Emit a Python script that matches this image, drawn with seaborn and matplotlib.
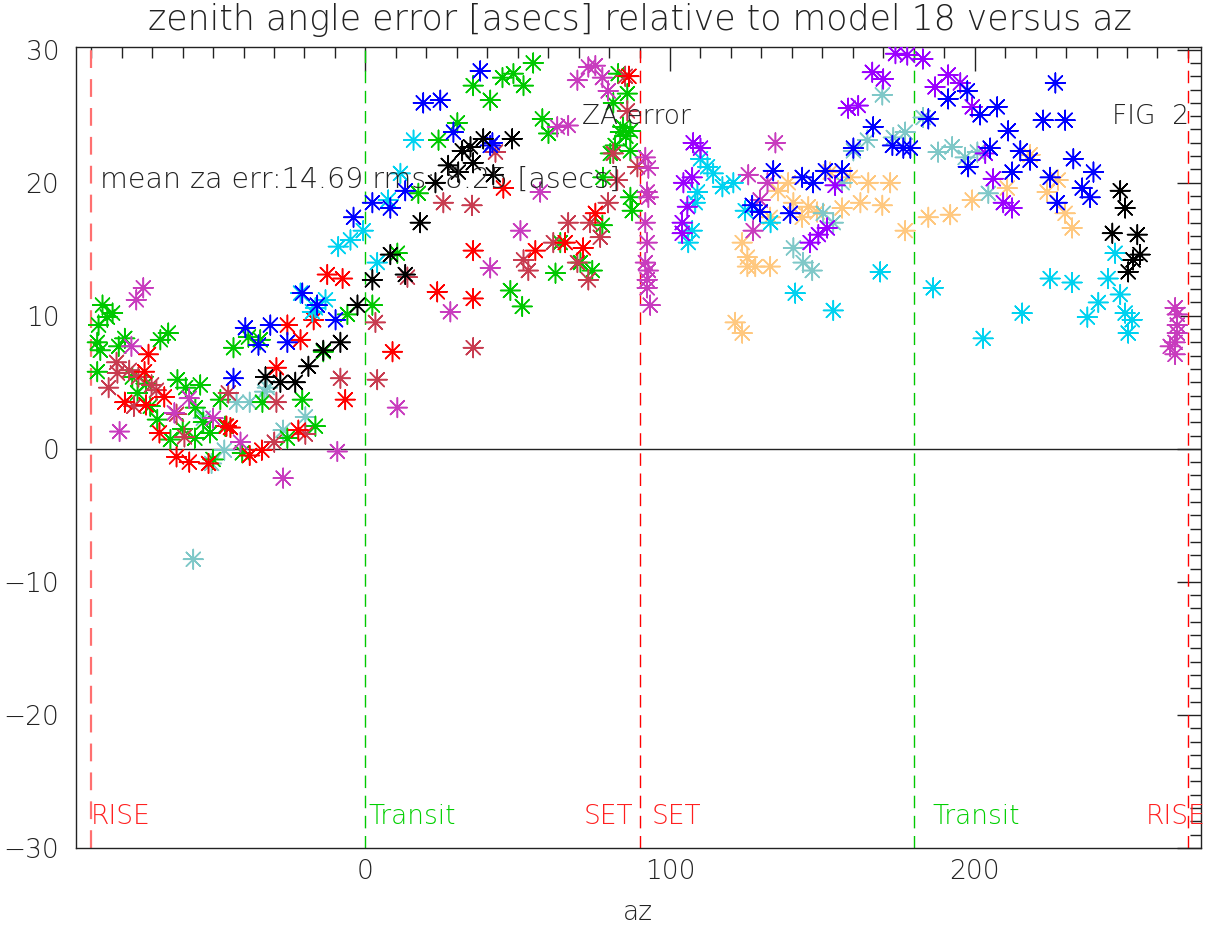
import matplotlib
matplotlib.use("Agg")
import matplotlib.pyplot as plt
from matplotlib.ticker import MultipleLocator
import seaborn as sns
import pandas as pd

# --- data (az [deg], za error [asecs]) ---
az_green = [-86.3, -84.7, -87.6, -88.0, -87.0, -81.0, -88.0, -67.3, -64.7, -76.5, -74.8, -70.6,
            -68.3, -64.0, -61.7, -59.0, -54.2, -55.8, -53.2, -51.0, -46.0, -47.6, -43.3, -38.4,
            -34.5, -40.4, -33.8, -25.6, -20.7, -16.4, -13.8, -5.9, 2.3, 10.5, -50.0, -83.0,
            -79.0, -72.0, -60.0, -56.0,
            35.4, 41.0, 45.0, 48.6, 51.9, 55.1, 30.2, 24.0, 58.1, 60.1, 17.4, 47.6, 51.5, 62.4,
            64.0, 77.8, 74.5, 83.0, 81.4, 86.0, 83.7, 87.0, 80.4, 87.0, 78.0, 87.6, 87.0, 70.6,
            84.5, 85.5, 82.0]
err_green = [10.8, 9.9, 9.3, 8.0, 7.4, 7.7, 5.8, 8.2, 8.7, 5.4, 4.2, 3.2,
             2.2, 0.7, 5.2, 4.6, 4.8, 3.1, 2.0, 1.2, 1.7, 3.7, 7.6, 8.4,
             8.2, -0.3, 3.5, 0.8, 3.7, 1.7, 7.3, 10.1, 10.8, 14.7, -0.8, 10.2,
             8.3, 4.9, 1.5, 0.8,
             27.3, 26.2, 27.9, 28.2, 27.3, 29.0, 24.5, 23.2, 24.8, 23.7, 19.2, 11.9, 10.7, 13.2,
             15.5, 16.8, 13.4, 28.2, 26.0, 26.7, 23.8, 23.9, 22.2, 22.4, 20.4, 17.9, 18.9, 14.0,
             24.2, 23.5, 22.8]

az_red = [-71.2, -72.5, -79.0, -72.0, -66.0, -67.6, -62.0, -57.8, -51.5, -45.6, -29.2, -25.6,
          -38.0, -34.0, -21.3, -17.0, -6.6, -22.0, -7.5, -12.5, 8.9, 23.6, 35.4, 35.4, 45.3,
          55.8, 71.5, 75.5, 65.6, -44.3, 86.5]
err_red = [7.1, 5.8, 3.5, 3.3, 3.9, 1.2, -0.6, -1.0, -1.1, 1.7, 6.1, 9.3,
           -0.5, -0.1, 8.2, 9.7, 3.7, 1.4, 12.8, 13.1, 7.3, 11.8, 14.9, 11.3, 19.6,
           14.9, 15.1, 17.7, 15.5, 1.6, 28.0]

az_brick = [-81.7, -84.3, -77.5, -74.5, -70.2, -68.6, -76.0, -62.0, -59.4, -45.0, -29.9, -29.2,
            -81.4, -19.7, -8.2, 3.3, 3.9, 13.8, 25.6, 35.0, 35.4, 51.9, 53.5, 66.6, 61.7, 69.6,
            73.2, 77.1, 79.7, 73.8, 82.7, 86.0, 89.3, 42.7, 81.4, 85.3]
err_brick = [6.5, 4.6, 5.9, 5.4, 4.8, 4.4, 3.2, 2.6, 0.9, 4.2, 0.5, 3.5,
             5.7, 1.1, 5.3, 9.5, 5.2, 12.9, 18.5, 18.3, 7.6, 14.2, 13.4, 17.0, 15.5, 14.0,
             12.7, 15.9, 18.5, 17.0, 20.2, 25.4, 21.2, 22.3, 22.2, 28.0]

az_magenta = [-72.9, -75.2, -76.8, -80.7, -57.8, -62.7, -50.0, -27.0, -9.2, -41.0,
              10.5, 27.9, 41.0, 50.9, 57.4, 63.0, 66.6, 69.6, 73.2, 75.5, 77.8, 79.7,
              91.9, 92.9, 92.5, 92.9, 91.9, 92.5, 91.9, 92.9, 92.5, 92.5, 93.5,
              265.8, 266.5, 266.5, 266.5, 265.8, 264.2, 265.8,
              134.6, 125.7, 132.0, 127.3, 129.6]
err_magenta = [12.1, 11.2, 7.7, 1.3, 3.8, 2.7, 2.3, -2.2, -0.2, 0.5,
               3.1, 10.3, 13.6, 16.4, 19.3, 24.2, 24.3, 27.7, 28.7, 28.8, 27.9, 26.9,
               21.9, 21.1, 19.3, 18.9, 17.0, 15.5, 14.0, 13.4, 12.7, 12.1, 10.8,
               10.6, 10.1, 9.3, 8.7, 8.0, 7.7, 7.1,
               23.0, 20.6, 20.0, 16.4, 18.7]

az_purple = [107.6, 110.0, 104.4, 107.3, 105.7, 104.0, 104.0, 146.0, 148.7, 151.6, 154.2, 158.5,
             161.8, 166.4, 170.0, 174.0, 177.9, 183.0, 187.0, 191.3, 195.3, 199.2, 203.5, 206.1,
             209.4, 212.3]
err_purple = [23.0, 22.6, 20.0, 20.4, 18.2, 17.0, 16.2, 15.5, 16.1, 16.6, 19.8, 25.6,
              25.8, 28.3, 27.8, 29.7, 29.6, 29.3, 27.2, 28.1, 27.5, 25.7, 22.2, 20.3,
              18.5, 18.1]

az_blue = [-43.3, -39.4, -35.1, -31.2, -25.6, -20.7, -15.8, -9.8, -3.9, 2.3, 8.2, 13.1,
           19.0, 24.6, 37.7, 28.9, 41.7, 41.0,
           133.9, 127.0, 129.6, 139.5, 143.4, 147.0, 151.0, 156.5, 160.2, 166.7,
           173.0, 176.6, 184.8, 191.3, 197.6, 201.8, 207.4, 211.0, 215.0, 218.2,
           226.5, 222.5, 229.7, 232.4, 239.0, 235.3, 237.9, 227.1, 224.8, 212.3,
           205.1, 197.9, 178.9]
err_blue = [5.3, 9.1, 7.8, 9.3, 8.0, 11.7, 10.8, 9.7, 17.4, 18.5, 18.1, 19.4,
            26.0, 26.2, 28.4, 23.8, 23.0, 22.8,
            20.9, 18.3, 17.8, 17.7, 20.4, 20.0, 20.9, 20.9, 22.6, 24.2,
            22.8, 22.6, 24.8, 26.3, 26.9, 25.1, 25.7, 23.9, 22.4, 21.7,
            27.5, 24.7, 24.7, 21.8, 20.8, 19.6, 18.9, 18.5, 20.4, 20.8,
            22.6, 21.2, 22.6]

az_cyan = [-21.3, -13.1, -16.4, -8.9, -4.9, -0.7, 3.9, 7.5, 15.8, 11.5, -17.4,
           110.0, 112.3, 114.2, 117.2, 120.8, 109.0, 108.3, 107.3, 106.0, 124.7,
           133.0, 141.1, 153.6, 169.0,
           186.4, 202.8, 215.6, 224.8, 232.0, 237.0, 240.6, 243.8, 246.1, 247.8,
           249.4, 251.7, 250.4]
err_cyan = [11.7, 11.2, 10.6, 15.2, 15.7, 16.4, 14.0, 18.7, 23.2, 20.7, 10.3,
            21.8, 21.2, 20.7, 19.7, 20.0, 19.3, 18.5, 16.4, 15.5, 17.9,
            17.0, 11.7, 10.4, 13.3,
            12.1, 8.3, 10.2, 12.8, 12.5, 9.9, 11.0, 12.8, 14.7, 11.6,
            10.2, 9.7, 8.7]

az_teal = [-53.2, -50.5, -46.3, -42.3, -38.0, -33.1, -27.0, -19.7, -32.2, -56.5,
           140.5, 143.7, 146.7, 150.3, 153.6, 156.5, 160.2, 164.8, 169.7, 173.3,
           177.2, 183.1, 188.0, 192.6, 196.9, 200.9, 204.5]
err_teal = [2.3, -1.1, -0.1, 3.5, 3.5, 4.3, 1.4, 2.4, 4.6, -8.3,
            15.1, 14.0, 13.4, 17.7, 17.0, 20.0, 22.4, 23.2, 26.6, 23.4,
            23.8, 24.9, 22.3, 22.7, 21.9, 22.3, 19.2]

az_black = [-32.8, -27.9, -23.0, -18.7, -13.8, -8.2, -2.6, 2.3, 8.2, 13.1, 18.0, 23.0,
            27.2, 31.8, 34.5, 38.7, 30.5, 35.4, 42.0, 48.2,
            247.8, 249.4, 245.2, 253.4, 254.3, 252.0, 250.4]
err_black = [5.4, 5.0, 5.0, 6.2, 7.4, 8.0, 10.8, 12.7, 14.6, 13.1, 17.0, 20.0,
             21.3, 22.4, 22.7, 23.3, 20.8, 21.5, 20.6, 23.3,
             19.4, 18.1, 16.2, 16.1, 14.6, 14.2, 13.3]

az_orange = [121.4, 123.7, 123.7, 125.4, 125.4, 128.0, 132.9, 129.6, 132.9, 135.5, 138.8,
             140.5, 143.4, 145.4, 148.3, 152.6, 156.5, 159.2, 162.5, 165.1, 169.7, 172.3,
             177.2, 184.8, 192.0, 199.2, 210.7, 218.2, 227.4, 223.8, 229.7, 232.0]
err_orange = [9.5, 8.7, 15.5, 14.4, 13.7, 13.7, 13.7, 17.8, 17.4, 19.4, 20.0,
              18.5, 17.4, 18.2, 17.8, 20.8, 18.1, 20.4, 18.5, 20.0, 18.3, 20.0,
              16.4, 17.4, 17.6, 18.7, 19.6, 22.1, 20.2, 19.3, 17.7, 16.6]

series = {
    'orange': (az_orange, err_orange, '#ffc87f'),
    'teal': (az_teal, err_teal, '#7fc8c8'),
    'green': (az_green, err_green, '#00c800'),
    'brick': (az_brick, err_brick, '#c83c50'),
    'red': (az_red, err_red, '#ff0000'),
    'magenta': (az_magenta, err_magenta, '#c83cbe'),
    'cyan': (az_cyan, err_cyan, '#00d2f0'),
    'purple': (az_purple, err_purple, '#9b00ff'),
    'blue': (az_blue, err_blue, '#0000ff'),
    'black': (az_black, err_black, '#000000'),
}

df = pd.concat([pd.DataFrame({'az': a, 'err': e, 'run': name})
                for name, (a, e, c) in series.items()], ignore_index=True)
palette = {name: c for name, (a, e, c) in series.items()}

sns.set_theme(style="white")
plt.rcParams['font.family'] = ['DejaVu Sans']
plt.rcParams['font.weight'] = 'light'

fig = plt.figure(figsize=(12.09, 9.30), dpi=100)
ax = fig.add_axes([76 / 1209, 82 / 930, 1125 / 1209, 801 / 930])

# event markers: rise / transit / set
ax.axvline(-90, color='#ff7070', lw=1.6, ls=(0, (8, 5)), zorder=1)
for xv, col in [(0, '#00c800'), (90, '#ff0000'), (180, '#00c800'), (270, '#ff0000')]:
    ax.axvline(xv, color=col, lw=1.0, ls=(0, (9, 5.5)), zorder=1)
ax.axhline(0, color='#222222', lw=1.0, zorder=1)

sns.scatterplot(data=df, x='az', y='err', hue='run', palette=palette,
                marker=(8, 2, 0), s=200, linewidth=1.1, legend=False, ax=ax, zorder=3)

ax.set_xlim(-95, 274.3)
ax.set_ylim(-30, 30.2)
ax.xaxis.set_major_locator(MultipleLocator(100))
ax.xaxis.set_minor_locator(MultipleLocator(10))
ax.yaxis.set_major_locator(MultipleLocator(10))
ax.yaxis.set_minor_locator(MultipleLocator(1))
ax.tick_params(which='both', direction='in', top=True, right=True, colors='#222222',
               labelsize=19, width=1.0)
ax.tick_params(which='major', length=17)
ax.tick_params(which='minor', length=8)
ax.tick_params(axis='x', pad=8)
ax.tick_params(axis='y', pad=12)
for sp in ax.spines.values():
    sp.set_color('#222222')
    sp.set_linewidth(1.0)
ax.set_xlabel('')
ax.set_ylabel('')

# annotations
txt = dict(fontsize=19, va='center')
ax.text(-87, 20.2, 'mean za err:14.69 rms: 8.25 [asecs]', color='#222222',
        fontsize=20.5, va='center')
ax.text(71.2, 25.0, 'ZA error', color='#222222', **txt)
ax.text(245.2, 25.0, 'FIG  2', color='#222222', **txt)
ax.text(-90, -27.6, 'RISE', color='#ff2020', ha='left', **txt)
ax.text(1.0, -27.6, 'Transit', color='#00d000', ha='left', **txt)
ax.text(87.8, -27.6, 'SET', color='#ff2020', ha='right', **txt)
ax.text(93.8, -27.6, 'SET', color='#ff2020', ha='left', **txt)
ax.text(186.0, -27.6, 'Transit', color='#00d000', ha='left', **txt)
ax.text(256.3, -27.6, 'RISE', color='#ff2020', ha='left', **txt)

fig.text(640 / 1209, 1 - 20 / 930, 'zenith angle error [asecs] relative to model 18 versus az',
         ha='center', va='center', fontsize=25, color='#222222')
fig.text(638 / 1209, 1 - 912 / 930, 'az', ha='center', va='center', fontsize=19, color='#222222')

fig.savefig('out.png', dpi=100)
